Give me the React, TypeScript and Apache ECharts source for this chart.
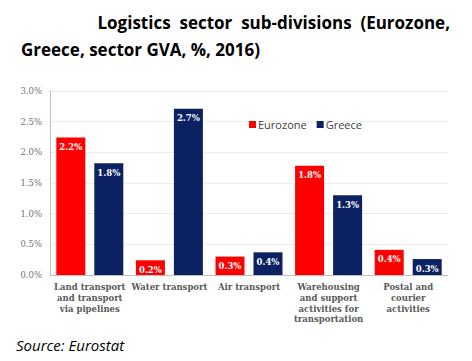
import React, { useEffect, useRef } from "react";
import * as echarts from "echarts";

const categories = [
  "Land transport\nand transport\nvia pipelines",
  "Water transport",
  "Air transport",
  "Warehousing\nand support\nactivities for\ntransportation",
  "Postal and\ncourier\nactivities",
];
const eurozone = [2.24, 0.24, 0.3, 1.78, 0.41];
const greece = [1.82, 2.71, 0.37, 1.3, 0.26];
const yTicks = [0, 0.5, 1.0, 1.5, 2.0, 2.5, 3.0];

const RED = "#FF0000";
const NAVY = "#0B2162";

export default function App() {
  const ref = useRef<HTMLDivElement>(null);
  useEffect(() => {
    if (!ref.current) return;
    const chart = echarts.init(ref.current, undefined, { renderer: "svg" });
    const labelCfg = {
      show: true,
      position: "insideTop" as const,
      distance: 5,
      color: "#FFFFFF",
      fontFamily: "DejaVu Serif",
      fontWeight: "bold" as const,
      fontSize: 8.5,
      formatter: (p: any) => `${Number(p.value).toFixed(1)}%`,
    };
    chart.setOption({
      animation: false,
      backgroundColor: "#FFFFFF",
      title: [
        {
          text: "Logistics  sector  sub-divisions  (Eurozone,",
          right: 17,
          top: 9,
          textStyle: { fontFamily: "Open Sans", fontWeight: "bold", fontSize: 17, color: "#000" },
        },
        {
          text: "Greece, sector GVA, %, 2016)",
          left: 16,
          top: 36,
          textStyle: { fontFamily: "Open Sans", fontWeight: "bold", fontSize: 17, color: "#000" },
        },
      ],
      graphic: [
        {
          type: "text",
          left: 16,
          top: 337,
          style: {
            text: "Source: Eurostat",
            font: "italic 15px 'Open Sans'",
            fill: "#000",
          },
        },
      ],
      legend: {
        left: 244,
        top: 114,
        itemWidth: 7,
        itemHeight: 7,
        itemGap: 10,
        icon: "rect",
        textStyle: { fontFamily: "Open Sans", fontSize: 11, color: "#404040", padding: [0, 0, 0, -3] },
        data: ["Eurozone", "Greece"],
      },
      grid: { left: 50, right: 24, top: 91, bottom: 86 },
      xAxis: {
        type: "category",
        data: categories,
        axisLine: { lineStyle: { color: "#BFBFBF", width: 1 } },
        axisTick: { show: false },
        axisLabel: {
          interval: 0,
          margin: 7,
          fontFamily: "DejaVu Serif",
          fontSize: 8.5,
          lineHeight: 10.7,
          color: "#595959",
          fontWeight: "bold",
        },
      },
      yAxis: {
        type: "value",
        min: 0,
        max: 3,
        interval: 0.5,
        axisLine: { show: true, lineStyle: { color: "#BFBFBF" } },
        axisTick: { show: false },
        splitLine: { lineStyle: { color: "#EBEBEB" } },
        axisLabel: {
          margin: 8,
          fontFamily: "DejaVu Serif",
          fontSize: 8.5,
          color: "#737373",
          formatter: (v: number) => (yTicks.includes(v) ? `${v.toFixed(1)}%` : ""),
        },
      },
      series: [
        {
          name: "Eurozone",
          type: "bar",
          data: eurozone,
          barWidth: 29,
          barGap: "31%",
          itemStyle: { color: RED },
          label: labelCfg,
        },
        {
          name: "Greece",
          type: "bar",
          data: greece,
          barWidth: 29,
          itemStyle: { color: NAVY },
          label: labelCfg,
        },
      ],
    });
    return () => chart.dispose();
  }, []);
  return <div ref={ref} style={{ width: 472, height: 361, margin: -8 }} />;
}
